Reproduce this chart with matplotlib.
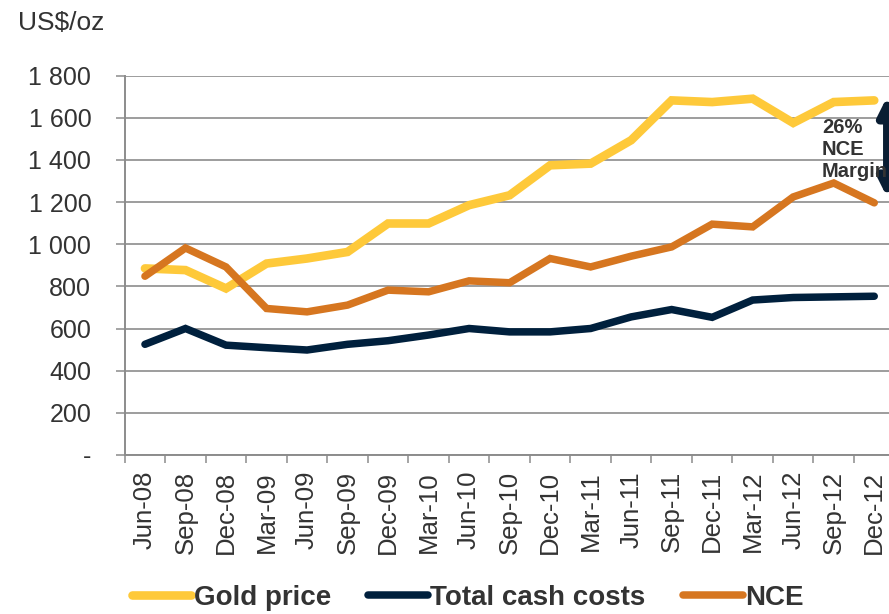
import matplotlib
matplotlib.use("Agg")
import matplotlib.pyplot as plt
import numpy as np

categories = ["Jun-08", "Sep-08", "Dec-08", "Mar-09", "Jun-09", "Sep-09", "Dec-09",
              "Mar-10", "Jun-10", "Sep-10", "Dec-10", "Mar-11", "Jun-11", "Sep-11",
              "Dec-11", "Mar-12", "Jun-12", "Sep-12", "Dec-12"]
gold_price = [885, 877, 790, 908, 932, 963, 1098, 1098, 1185, 1232, 1374, 1382,
              1493, 1682, 1674, 1690, 1575, 1674, 1682]
total_cash_costs = [525, 600, 521, 509, 498, 525, 542, 569, 600, 584, 584, 600,
                    655, 690, 653, 735, 747, 750, 753]
nce = [848, 982, 892, 695, 679, 711, 782, 774, 826, 817, 932, 892,
       943, 987, 1095, 1082, 1224, 1290, 1196]
y_ticks = [0, 200, 400, 600, 800, 1000, 1200, 1400, 1600, 1800]
y_tick_labels = ["-", "200", "400", "600", "800", "1 000", "1 200", "1 400", "1 600", "1 800"]

plt.rcParams['font.family'] = ['Liberation Sans', 'DejaVu Sans']

W, H = 889, 614
fig = plt.figure(figsize=(W / 100, H / 100), dpi=100)
left_px, right_px = 124.7, 894.5
bottom_px, top_px = 455, 75.5
ax = fig.add_axes([left_px / W, 1 - bottom_px / H, (right_px - left_px) / W, (bottom_px - top_px) / H])

GOLD = '#FEC93A'
NAVY = '#00203D'
ORANGE = '#D67620'
GRID = '#8C8C8C'
TXT = '#333333'

x = np.arange(len(categories))
ax.plot(x, gold_price, color=GOLD, lw=6.2, solid_capstyle='round', solid_joinstyle='miter', label='Gold price', zorder=3)
ax.plot(x, total_cash_costs, color=NAVY, lw=5.4, solid_capstyle='round', solid_joinstyle='miter', label='Total cash costs', zorder=4)
ax.plot(x, nce, color=ORANGE, lw=5.4, solid_capstyle='round', solid_joinstyle='miter', label='NCE', zorder=5)

ax.set_xlim(-0.5, len(categories) - 0.5)
ax.set_ylim(0, 1800)
ax.set_yticks(y_ticks)
ax.set_yticklabels(y_tick_labels)
ax.yaxis.grid(True, color=GRID, lw=1.2)
ax.set_axisbelow(True)

for s in ['top', 'right']:
    ax.spines[s].set_visible(False)
for s in ['left', 'bottom']:
    ax.spines[s].set_color(GRID)
    ax.spines[s].set_linewidth(1.4)

ax.tick_params(axis='y', direction='out', length=6.5, width=1.1, color=GRID,
               pad=17.5, labelsize=18, labelcolor=TXT)
ax.set_xticks(x)
ax.set_xticklabels(categories, rotation=90)
ax.tick_params(axis='x', which='major', length=0, pad=11.5, labelsize=18.5, labelcolor=TXT)
ax.set_xticks(np.arange(-0.5, len(categories), 1.0), minor=True)
ax.tick_params(axis='x', which='minor', direction='out', length=5.5, width=1.1, color=GRID)

# Margin annotation
ax.annotate('', xy=(18.32, 1700), xytext=(18.32, 1222),
            arrowprops=dict(arrowstyle='<|-|>', color='#0A1E33', lw=6, mutation_scale=26,
                            shrinkA=0, shrinkB=0), zorder=6, annotation_clip=False)
fig.text(822 / W, 1 - 118 / H, "26%\nNCE\nMargin", fontsize=14.5, fontweight='bold',
         color=TXT, ha='left', va='top', linespacing=1.2, zorder=7)

fig.text(18 / W, 1 - 30 / H, "US$/oz", fontsize=19, color=TXT, ha='left', va='baseline')

leg = fig.legend(loc='center left', bbox_to_anchor=(131.7 / W, 1 - 598 / H), ncol=3,
                 frameon=False, prop={'size': 20, 'weight': 'bold'},
                 handlelength=2.15, handletextpad=0.08, columnspacing=1.35,
                 borderpad=0, borderaxespad=0)
for t in leg.get_texts():
    t.set_color(TXT)

fig.savefig('out.png', dpi=100)
